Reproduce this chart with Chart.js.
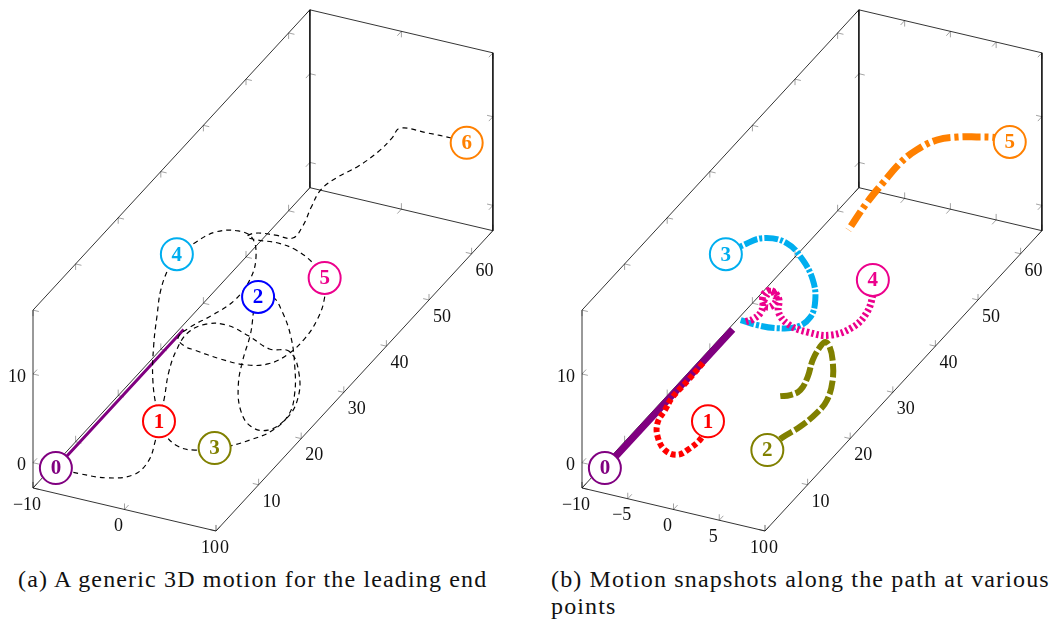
<!DOCTYPE html>
<html>
<head>
<meta charset="utf-8">
<script src="https://cdn.jsdelivr.net/npm/chart.js@4.4.0/dist/chart.umd.min.js"></script>
<style>
  body { margin: 0; background: #fff; width: 1061px; height: 621px; overflow: hidden; position: relative; }
  canvas { position: absolute; top: 0; }
  #chartA { left: 0; }
  #chartB { left: 549px; }
  .cap { position: absolute; font-family: "Liberation Serif", serif; font-size: 24px; line-height: 27px;
         letter-spacing: 1.15px; white-space: nowrap; color: #111; }
</style>
</head>
<body>
<canvas id="chartA" width="549" height="560"></canvas>
<canvas id="chartB" width="512" height="560"></canvas>
<div class="cap" style="left:18px; top:566px;">(a) A generic 3D motion for the leading end</div>
<div class="cap" style="left:551px; top:566px; width:510px; overflow:hidden;">(b) Motion snapshots along the path at various<br>points</div>
<script>
// axis box and ticks
const xRange = [-10, 10];
const yRange = [0, 65];
const zRange = [-2.85, 17.2];
const xTicksA = [-10, 0, 10];
const xTicksB = [-10, -5, 0, 5, 10];
const yTicks = [0, 10, 20, 30, 40, 50, 60];
const zTicks = [0, 10];

// (a) path of the leading end, points are [x, y, z]
const leadPath = [
  [-7.5, 0, 0], [-4.8, 0, 0], [-2.1, 0.4, 0], [0, 2, 0], [1.5, 2.3, 1.7], [2, 2.9, 3.8],
  [2, 3.8, 5.6],
  [1.6, 5.9, 7], [1.3, 7.6, 9], [0.9, 10.3, 10], [0.5, 13.8, 10], [1.4, 16.1, 10], [3.3, 16.8, 10],
  [6.2, 15.8, 10], [7.7, 17.5, 8], [8.3, 21, 6], [9.6, 20.4, 4], [9.3, 20.6, 1], [9.1, 18.6, 0],
  [8.4, 15.6, 0], [6.5, 15.6, 0], [5, 16.5, 1], [4.2, 17.7, 3], [4, 19.2, 5], [4.1, 20.7, 7],
  [3.1, 24.7, 9],
  [4.3, 25.4, 9], [5.8, 24.6, 8], [7.9, 22.1, 7], [9.1, 20.4, 5], [9.2, 20.2, 2], [9, 19.2, 0],
  [8.8, 15.6, 0], [7.6, 13.1, 0], [6.3, 11.2, 0],
  [5.1, 10.2, 0],
  [3.5, 9, 0], [1.6, 9, 0], [0.1, 9.2, 1], [-1, 9.8, 3], [-1.7, 10.3, 6], [-2.3, 11.8, 9],
  [-3, 14.1, 11], [-4, 17.1, 12], [-4.4, 19.8, 13],
  [-4.8, 22.6, 13],
  [-4.2, 25.1, 13], [-3.2, 28.1, 13], [-1.2, 29.3, 13], [-0.1, 30.2, 12], [0.4, 30, 10], [0.2, 29, 8],
  [-0.2, 26.3, 7], [-1.7, 24.3, 6], [-2.7, 21.2, 6], [-2.9, 18.8, 6], [-2.4, 19.2, 5], [-1.1, 18.9, 5],
  [1.9, 18.4, 5], [4.6, 18.4, 5], [6.6, 19.5, 5], [7.6, 22.1, 5], [7.8, 25.7, 5], [8.1, 27.8, 6],
  [7.1, 31.6, 6],
  [5.3, 35.6, 6],
  [3.6, 36.3, 7], [1.9, 36.2, 8], [-0.3, 36.7, 8], [-2.4, 36.4, 8], [-3.6, 36.5, 8], [-3.2, 37.5, 8],
  [-1.2, 38, 8], [0.6, 38.2, 8], [0.5, 40.8, 8], [-0.3, 44.5, 8], [-1.6, 49.5, 7], [-1.2, 52.3, 7],
  [-0.2, 55.3, 7], [0.4, 58.7, 7], [0.5, 61.7, 7], [0.4, 63.8, 7], [3.3, 64.1, 7], [5.9, 64.2, 7],
  [7.6, 64, 7], [9.4, 63.9, 7]
];
const rodA = [[-7.5, 0, 0], [-7.5, 30, 0]];
const labelsA = ['0', '1', '2', '3', '4', '5', '6'];
const labelPosA = [[-7.5, 0, 0], [2, 3.8, 5.6], [3.1, 24.7, 9], [5.1, 10.2, 0], [-4.8, 22.6, 13], [5.3, 35.6, 6], [7.6, 64, 7]];
const labelColA = ['#800080', '#ff0000', '#0000ff', '#808000', '#00aeef', '#ec008c', '#ff8000'];

// (b) snapshots of the body
const snap0 = [[-7.5, 0, 0], [-7.5, 30, 0]];
const snap1 = [[-7.4, 22.8, 0], [-7.3, 19.1, 0], [-7.3, 15.5, 0], [-6.9, 12.8, 0], [-6.5, 10.2, 0], [-5.3, 7.7, 0],
  [-3.2, 4.9, 0.5], [-1.4, 3.8, 1], [-0.1, 3.5, 2], [1.6, 3.3, 4], [2, 3.8, 5.6]];
const snap2 = [[5.6, 10, 0], [5.9, 12.8, 0], [6.6, 15.5, 0], [7.7, 17.1, 1], [8.3, 18.2, 2], [8.6, 18.9, 4], [8.4, 19.3, 6],
  [7.8, 19.9, 7], [7, 20.6, 7], [6.2, 21.1, 6], [5.9, 20, 5], [6.1, 18.4, 4], [5.8, 17.3, 3], [5.3, 16, 3], [4.5, 15.4, 3]];
const snap3 = [[-4.8, 22.6, 13], [-4, 24.9, 13], [-2.8, 27, 13], [-1, 28.7, 12], [0.4, 29.5, 10], [1.5, 29.5, 8],
  [1.9, 29.2, 6], [1.4, 29.1, 4], [-0.5, 30, 2], [-2.9, 30.5, 1], [-5.7, 31.8, 0], [-7.6, 32, 0]];
const snap4 = [[5.4, 35.2, 6], [5.9, 34.1, 5], [6.1, 32.2, 4], [5.3, 30.7, 3], [3.2, 29.9, 2], [0.9, 29.5, 2], [-1.3, 30, 2],
  [-2.5, 30.1, 3], [-3.8, 32.8, 3], [-5.2, 33.8, 3], [-5.3, 32.3, 3], [-4, 30.7, 3], [-3.8, 32.3, 3], [-5, 33.7, 3],
  [-4.9, 31.8, 3], [-4.2, 29.6, 3], [-5.8, 31.1, 1], [-7, 31.9, 0]];
const snap5 = [[7, 63.9, 7], [5.5, 64.1, 7], [3.6, 63.4, 7], [1.9, 62.6, 7], [0.3, 61.2, 7], [-0.7, 58.6, 7],
  [-1.1, 55.6, 7], [-1, 51.3, 7], [-0.8, 47.1, 7], [-0.2, 41.5, 7]];
const labelsB = ['0', '1', '2', '3', '4', '5'];
const labelPosB = [[-7.5, 0, 0], [2, 3.8, 5.6], [5.6, 10, 0], [-4.8, 22.6, 13], [5.4, 35.2, 6], [7, 63.9, 7]];
const labelColB = ['#800080', '#ff0000', '#808000', '#00aeef', '#ec008c', '#ff8000'];

// oblique view of the 3D box
function proj(p) {
  return { x: 9.15 * p[0] + 4.26 * p[1], y: -2.15 * p[0] + 4.62 * p[1] + 8.87 * p[2] };
}
const fmt = v => v < 0 ? '\u2212' + (-v) : String(v);

function boxEdges() {
  const c = (i, j, k) => [xRange[i], yRange[j], zRange[k]];
  const A = c(0, 0, 0), B = c(1, 0, 0), C = c(1, 1, 0), D = c(0, 1, 0);
  const A2 = c(0, 0, 1), C2 = c(1, 1, 1), D2 = c(0, 1, 1);
  const pairs = [[A, B], [B, C], [C, D], [D, A], [A, A2], [A2, D2], [D2, D], [D2, C2], [C2, C]];
  return pairs.map(pr => ({
    data: pr.map(proj), showLine: true, borderColor: '#000', borderWidth: 0.8,
    pointRadius: 0, order: 9
  }));
}

function curve(pts, color, width, dash, order) {
  return {
    data: pts.map(proj), showLine: true, borderColor: color, borderWidth: width,
    borderDash: dash, pointRadius: 0, tension: 0.4, order: order
  };
}

function circles(pos, cols) {
  return {
    data: pos.map(proj), showLine: false, pointRadius: 16, pointHoverRadius: 16,
    pointBackgroundColor: '#fff', pointBorderColor: cols, pointBorderWidth: 2, order: 0
  };
}

function axes3d(xTicks, labels, cols) {
  return {
    id: 'axes3d',
    beforeDatasetsDraw(chart) {
      const ctx = chart.ctx, sx = chart.scales.x, sy = chart.scales.y;
      const px = p => { const q = proj(p); return [sx.getPixelForValue(q.x), sy.getPixelForValue(q.y)]; };
      const [x0, x1] = xRange, [y0, y1] = yRange, [z0, z1] = zRange;
      ctx.save();
      ctx.strokeStyle = '#8c8c8c';
      ctx.lineWidth = 0.8;
      const tick = (p, dirs) => {
        const a = px(p);
        dirs.forEach(d => {
          const b = px([p[0] + d[0], p[1] + d[1], p[2] + d[2]]);
          const len = Math.hypot(b[0] - a[0], b[1] - a[1]);
          ctx.beginPath();
          ctx.moveTo(a[0], a[1]);
          ctx.lineTo(a[0] + (b[0] - a[0]) / len * 6, a[1] + (b[1] - a[1]) / len * 6);
          ctx.stroke();
        });
      };
      xTicks.forEach(v => {
        tick([v, y0, z0], [[0, 1, 0], [0, 0, 1]]);
        tick([v, y1, z0], [[0, -1, 0], [0, 0, 1]]);
        tick([v, y1, z1], [[0, -1, 0], [0, 0, -1]]);
      });
      yTicks.forEach(v => {
        tick([x0, v, z0], [[1, 0, 0], [0, 0, 1]]);
        tick([x0, v, z1], [[1, 0, 0], [0, 0, -1]]);
        tick([x1, v, z0], [[-1, 0, 0], [0, 0, 1]]);
      });
      zTicks.forEach(v => {
        tick([x0, y0, v], [[1, 0, 0], [0, 1, 0]]);
        tick([x0, y1, v], [[1, 0, 0], [0, -1, 0]]);
        tick([x1, y1, v], [[-1, 0, 0], [0, -1, 0]]);
      });
      ctx.fillStyle = '#111';
      ctx.font = '18px "Liberation Serif"';
      ctx.textBaseline = 'middle';
      ctx.textAlign = 'center';
      xTicks.forEach(v => { const a = px([v, y0, z0]); ctx.fillText(fmt(v), a[0] - 6, a[1] + 17); });
      ctx.textAlign = 'left';
      yTicks.forEach(v => { const a = px([x1, v, z0]); ctx.fillText(fmt(v), a[0] + 4, a[1] + 17); });
      ctx.textAlign = 'right';
      zTicks.forEach(v => { const a = px([x0, y0, v]); ctx.fillText(fmt(v), a[0] - 7, a[1] + 3); });
      ctx.restore();
    },
    afterDatasetsDraw(chart) {
      const ctx = chart.ctx;
      const pts = chart.getDatasetMeta(0).data;
      ctx.save();
      ctx.font = 'bold 21px "Liberation Serif"';
      ctx.textAlign = 'center';
      ctx.textBaseline = 'middle';
      pts.forEach((pt, i) => {
        ctx.fillStyle = cols[i];
        ctx.fillText(labels[i], pt.x, pt.y + 1);
      });
      ctx.restore();
    }
  };
}

function makeChart(id, width, datasets, plugin) {
  const ox = 124.5, oy = 484.2, h = 560;
  return new Chart(document.getElementById(id), {
    type: 'scatter',
    data: { datasets: datasets },
    options: {
      responsive: false,
      animation: false,
      events: [],
      layout: { padding: 0, autoPadding: false },
      plugins: { legend: { display: false }, tooltip: { enabled: false } },
      scales: {
        x: { type: 'linear', display: false, min: -ox, max: width - ox },
        y: { type: 'linear', display: false, min: oy - h, max: oy }
      }
    },
    plugins: [plugin]
  });
}

makeChart('chartA', 549, [
  circles(labelPosA, labelColA),
  curve(leadPath, '#000', 1.2, [5, 4], 1),
  curve(rodA, '#800080', 3, [], 2),
  ...boxEdges()
], axes3d(xTicksA, labelsA, labelColA));

makeChart('chartB', 512, [
  circles(labelPosB, labelColB),
  curve(snap1, '#ff0000', 6, [5, 3], 1),
  curve(snap4, '#ec008c', 7, [2.5, 2.5], 2),
  curve(snap3, '#00aeef', 6, [14, 2, 3, 2], 3),
  curve(snap2, '#808000', 6, [14, 3], 4),
  curve(snap5, '#ff8000', 7, [18, 4, 4, 4], 5),
  curve(snap0, '#800080', 7, [], 6),
  ...boxEdges()
], axes3d(xTicksB, labelsB, labelColB));
</script>
</body>
</html>
